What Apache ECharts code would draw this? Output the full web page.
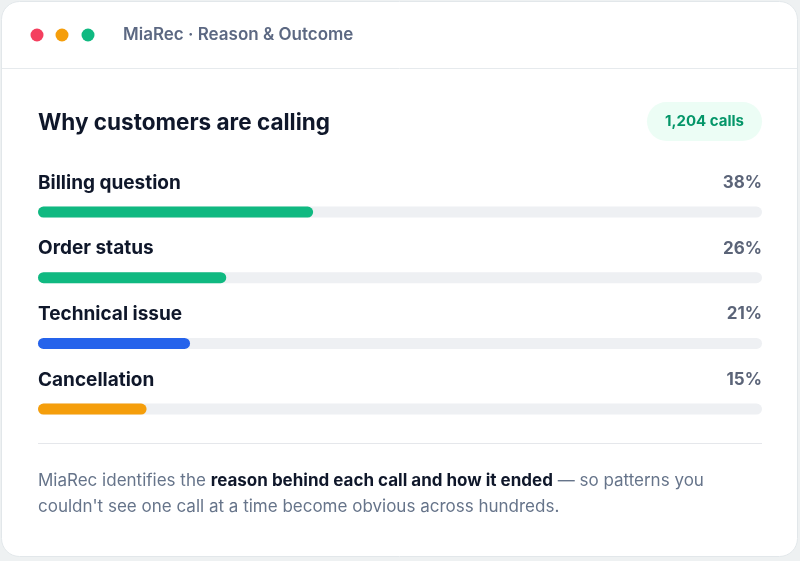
<!DOCTYPE html>
<html>
<head>
<meta charset="utf-8">
<script src="https://cdn.jsdelivr.net/npm/echarts@6/dist/echarts.min.js"></script>
<style>
html,body{margin:0;padding:0;background:#eef1f2;}
#chart{width:800px;height:561px;}
</style>
</head>
<body>
<div id="chart"></div>
<script>
var categories = ['Billing question', 'Order status', 'Technical issue', 'Cancellation'];
var shares = [38, 26, 21, 15];
var scaleMax = 100;
var totalCalls = '1,204 calls';
var windowTitle = 'MiaRec · Reason & Outcome';
var heading = 'Why customers are calling';

var barColors = ['#10b981', '#10b981', '#2563eb', '#f59e0b'];
var FONT = 'Inter, "Noto Sans", sans-serif';

var chart = echarts.init(document.getElementById('chart'), null, {renderer: 'canvas'});

var option = {
  animation: false,
  backgroundColor: 'transparent',
  graphic: [
    {type: 'rect', z: -10, shape: {x: 1.5, y: 1.5, width: 796, height: 555, r: 18},
     style: {fill: '#ffffff', stroke: '#e2e7ea', lineWidth: 1}},
    {type: 'line', z: -9, shape: {x1: 2, y1: 68.5, x2: 797, y2: 68.5}, style: {stroke: '#e6eaed', lineWidth: 1}},
    {type: 'circle', shape: {cx: 37, cy: 35, r: 6.5}, style: {fill: '#f43f5e'}},
    {type: 'circle', shape: {cx: 62, cy: 35, r: 6.5}, style: {fill: '#f59e0b'}},
    {type: 'circle', shape: {cx: 88, cy: 35, r: 6.5}, style: {fill: '#10b981'}},
    {type: 'text', x: 123, y: 34.5, style: {text: windowTitle, font: '600 17px ' + FONT, fill: '#5c6882', verticalAlign: 'middle'}},
    {type: 'text', x: 38, y: 123, style: {text: heading, font: '700 22.5px ' + FONT, fill: '#0f172a', verticalAlign: 'middle'}},
    {type: 'rect', shape: {x: 647, y: 102, width: 115, height: 39, r: 19.5}, style: {fill: '#ecfdf5'}},
    {type: 'text', x: 704.5, y: 121.5, style: {text: totalCalls, font: '700 15px ' + FONT, fill: '#059669', align: 'center', verticalAlign: 'middle'}},
    {type: 'line', shape: {x1: 38, y1: 443.5, x2: 762, y2: 443.5}, style: {stroke: '#e5e7eb', lineWidth: 1}},
    {type: 'text', x: 38, y: 468, style: {
      text: '{n|MiaRec identifies the }{b|reason behind each call and how it ended}{n| — so patterns you}\n{n|couldn\'t see one call at a time become obvious across hundreds.}',
      verticalAlign: 'top',
      rich: {
        n: {font: '400 17px ' + FONT, fill: '#66748a', lineHeight: 26},
        b: {font: '700 17px ' + FONT, fill: '#0f172a', lineHeight: 26}
      }
    }}
  ],
  grid: {left: 38, right: 38, top: 179.2, height: 262.7},
  xAxis: {type: 'value', min: 0, max: scaleMax, show: false},
  yAxis: {type: 'category', data: categories, inverse: true, show: false},
  series: [
    {
      type: 'bar', name: 'track', barWidth: 11, barGap: '-100%', z: 1,
      data: categories.map(function(){ return scaleMax; }),
      itemStyle: {color: '#eef0f3', borderRadius: 5.5},
      label: {
        show: true, position: ['100%', -23.5], align: 'right', verticalAlign: 'middle',
        formatter: function(p){ return shares[p.dataIndex] + '%'; },
        fontFamily: FONT, fontSize: 17, fontWeight: 700, color: '#5b6478'
      },
      silent: true
    },
    {
      type: 'bar', name: 'share', barWidth: 11, barGap: '-100%', z: 2,
      data: shares.map(function(v, i){ return {value: v, itemStyle: {color: barColors[i]}}; }),
      itemStyle: {borderRadius: 5.5},
      label: {
        show: true, position: [0, -23.5], align: 'left', verticalAlign: 'middle',
        formatter: '{b}',
        fontFamily: FONT, fontSize: 19, fontWeight: 700, color: '#0f172a'
      }
    }
  ]
};
chart.setOption(option);
</script>
</body>
</html>
